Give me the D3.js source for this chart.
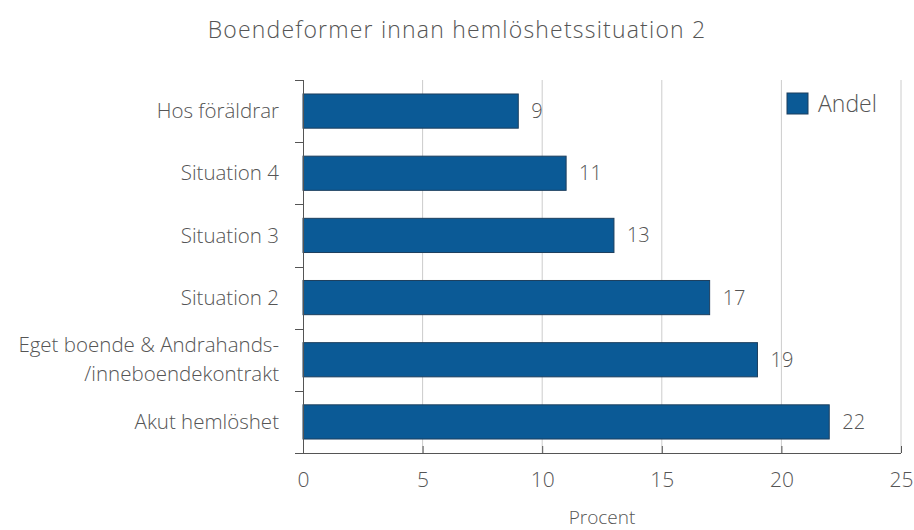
<!DOCTYPE html>
<html>
<head>
<meta charset="utf-8">
<script src="https://cdn.jsdelivr.net/npm/d3@7"></script>
<style>
  body { margin: 0; background: #fff; }
  text { font-family: "Open Sans", "DejaVu Sans", sans-serif; font-weight: 300; fill: #555; }
</style>
</head>
<body>
<svg id="chart" width="914" height="530"></svg>
<script>
// data
const categories = ['Hos föräldrar', 'Situation 4', 'Situation 3', 'Situation 2',
  'Eget boende & Andrahands-\n/inneboendekontrakt', 'Akut hemlöshet']
const andel = [9, 11, 13, 17, 19, 22]
const xTicks = [0, 5, 10, 15, 20, 25]

const svg = d3.select('#chart')
const margin = { top: 80, left: 303, right: 13, bottom: 77 }
const W = 914, H = 530
const plotW = W - margin.left - margin.right
const plotH = H - margin.top - margin.bottom

const x = d3.scaleLinear().domain([0, 25]).range([0, plotW])
const y = d3.scaleBand().domain(categories).range([0, plotH])
  .paddingInner(0.45).paddingOuter(0.225)

const g = svg.append('g').attr('transform', `translate(${margin.left},${margin.top})`)

// title
svg.append('text')
  .attr('x', 457).attr('y', 38)
  .attr('text-anchor', 'middle')
  .style('font-size', '23px')
  .style('letter-spacing', '1.2px')
  .text('Boendeformer innan hemlöshetssituation 2')

// grid
g.selectAll('.grid').data(xTicks.slice(1))
  .enter().append('line')
  .attr('x1', d => x(d)).attr('x2', d => x(d))
  .attr('y1', 0).attr('y2', plotH)
  .attr('stroke', '#ccc').attr('stroke-width', 1)

// bars
g.selectAll('.bar').data(andel)
  .enter().append('rect')
  .attr('x', 0)
  .attr('y', (d, i) => y(categories[i]))
  .attr('width', d => x(d))
  .attr('height', y.bandwidth())
  .attr('fill', '#0b5a96')
  .attr('stroke', '#1d3f5e').attr('stroke-width', 1)

// value labels
g.selectAll('.val').data(andel)
  .enter().append('text')
  .attr('x', d => x(d) + 13)
  .attr('y', (d, i) => y(categories[i]) + y.bandwidth() / 2)
  .attr('dy', '0.35em')
  .style('font-size', '20px')
  .text(d => d)

// x axis
const xAxis = g.append('g').attr('transform', `translate(0,${plotH})`)
  .call(d3.axisBottom(x).tickValues(xTicks).tickSizeInner(-7).tickSizeOuter(0).tickPadding(19))
xAxis.select('.domain').attr('stroke', '#555').attr('d', `M-8,0.5H${plotW}`)
xAxis.selectAll('.tick line').attr('stroke', '#555')
xAxis.selectAll('.tick text').style('font-size', '21px').attr('fill', '#555')
  .style('font-family', '"Open Sans", sans-serif').style('font-weight', 300)

svg.append('text')
  .attr('x', margin.left + plotW / 2).attr('y', 524)
  .attr('text-anchor', 'middle')
  .style('font-size', '19px')
  .text('Procent')

// y axis with ticks at band boundaries
const yAxis = g.append('g')
yAxis.append('line').attr('x1', 0.5).attr('x2', 0.5).attr('y1', 0).attr('y2', plotH).attr('stroke', '#555')
const bounds = d3.range(categories.length).map(i => y(categories[i]) - y.step() * y.paddingInner() / 2)
yAxis.selectAll('.ytick').data(bounds)
  .enter().append('line')
  .attr('x1', -8).attr('x2', 0)
  .attr('y1', d => Math.round(d) + 0.5).attr('y2', d => Math.round(d) + 0.5)
  .attr('stroke', '#555')

categories.forEach((c, i) => {
  const lines = c.split('\n')
  const cy = y(c) + y.bandwidth() / 2
  const t = g.append('text')
    .attr('text-anchor', 'end')
    .style('font-size', '20.5px')
  lines.forEach((l, j) => {
    t.append('tspan')
      .attr('x', -24)
      .attr('y', cy + (j - (lines.length - 1) / 2) * 29)
      .attr('dy', '0.35em')
      .text(l)
  })
})

// legend
const leg = svg.append('g').attr('transform', 'translate(787,93)')
leg.append('rect').attr('width', 21).attr('height', 21)
  .attr('fill', '#0b5a96').attr('stroke', '#1d3f5e')
leg.append('text').attr('x', 31).attr('y', 11).attr('dy', '0.35em')
  .style('font-size', '23px').text('Andel')
</script>
</body>
</html>
